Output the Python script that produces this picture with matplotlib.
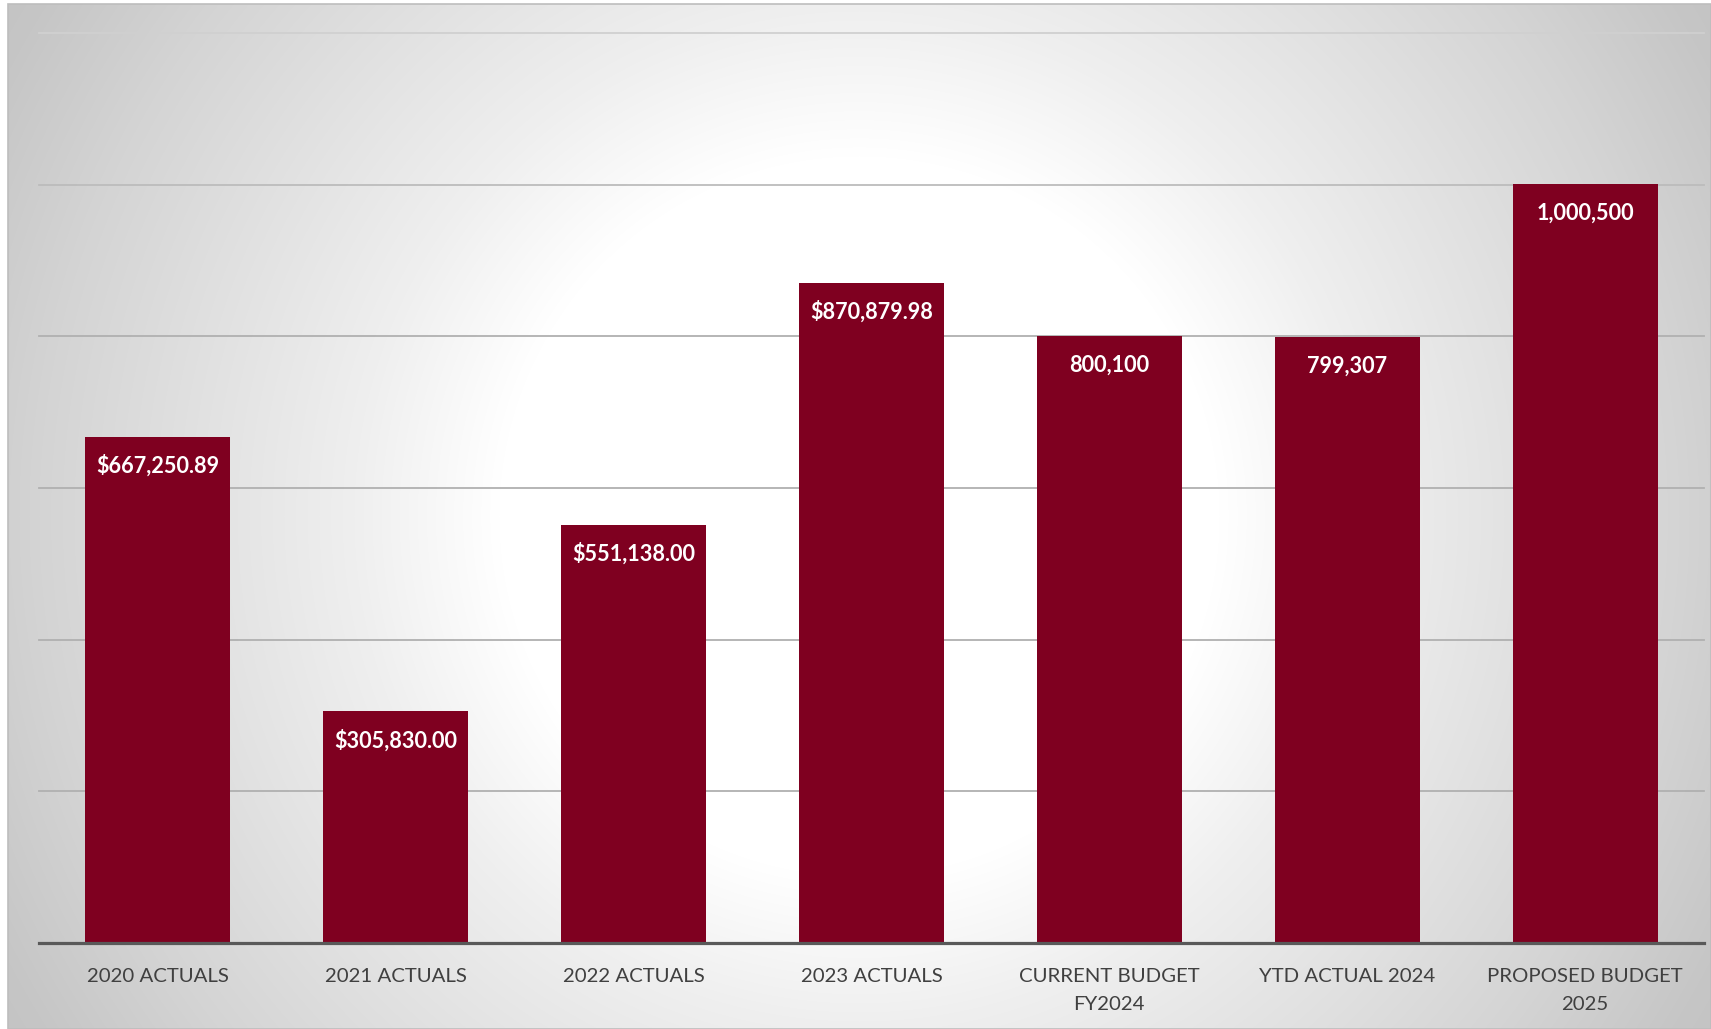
import numpy as np
import matplotlib
matplotlib.use("Agg")
import matplotlib.pyplot as plt
from matplotlib.patches import Rectangle

categories = ["2020 ACTUALS", "2021 ACTUALS", "2022 ACTUALS", "2023 ACTUALS",
              "CURRENT BUDGET\nFY2024", "YTD ACTUAL 2024", "PROPOSED BUDGET\n2025"]
values = [667250.89, 305830.00, 551138.00, 870879.98, 800100, 799307, 1000500]
label_formats = ["${:,.2f}", "${:,.2f}", "${:,.2f}", "${:,.2f}", "{:,.0f}", "{:,.0f}", "{:,.0f}"]
y_ticks = [0, 200000, 400000, 600000, 800000, 1000000, 1200000]

W, H = 1711, 1029
DPI = 100
BAR_COLOR = "#7f0020"

plt.rcParams["font.family"] = ["Lato", "DejaVu Sans"]

fig = plt.figure(figsize=(W / DPI, H / DPI), dpi=DPI)
fig.patch.set_facecolor("white")

# Chart-area background: radial gradient, white centre fading to grey
bg = fig.add_axes([0, 0, 1, 1], zorder=0)
bg.set_xlim(0, W)
bg.set_ylim(H, 0)
bg.axis("off")
x0, y0, x1, y1 = 8, 4, W, H
xs = np.arange(x0, x1) + 0.5
ys = np.arange(y0, y1) + 0.5
XX, YY = np.meshgrid(xs, ys)
cx, cy = (x0 + x1) / 2, (y0 + y1) / 2
d = np.hypot(XX - cx, YY - cy)
shade = np.interp(d, [0, 360, 505, 820, 960, 1100], [255, 255, 239, 212, 198, 190]) / 255.0
img = np.dstack([shade, shade, shade])
bg.imshow(img, extent=(x0, x1, y1, y0), interpolation="bilinear", aspect="auto")
bg.add_patch(Rectangle((x0, y0), x1 - x0, y1 - y0, fill=False, edgecolor="#bdbdbd", linewidth=1.2))

# Plot area
left, right = 39 / W, 1704 / W
bottom, top = (H - 943) / H, (H - 33) / H
ax = fig.add_axes([left, bottom, right - left, top - bottom], zorder=1)
ax.set_facecolor("none")

x = np.arange(len(categories))
bars = ax.bar(x, values, width=0.61, color=BAR_COLOR, zorder=3)

ax.set_xlim(-0.5, len(categories) - 0.5)
ax.set_ylim(0, 1200000)
ax.set_yticks(y_ticks)
ax.yaxis.grid(True, color="#b0b0b0", linewidth=1.3)
gridlines = ax.get_ygridlines()
for gl in gridlines:
    gl.set_clip_on(False)
gridlines[-1].set_color("#d0d0d0")
gridlines[-2].set_color("#bcbcbc")
ax.set_axisbelow(True)
ax.tick_params(axis="y", left=False, labelleft=False)

for side in ("left", "right", "top"):
    ax.spines[side].set_visible(False)
ax.spines["bottom"].set_color("#595959")
ax.spines["bottom"].set_linewidth(2.3)
ax.spines["bottom"].set_zorder(4)

ax.set_xticks(x)
ax.set_xticklabels(categories, fontsize=14.7, color="#404040", linespacing=1.78)
ax.tick_params(axis="x", length=0, pad=18)

for bar, val, fmt in zip(bars, values, label_formats):
    ax.annotate(fmt.format(val),
                xy=(bar.get_x() + bar.get_width() / 2, val),
                xytext=(0, -29), textcoords="offset pixels",
                ha="center", va="center", color="white",
                fontsize=15.6, fontweight="bold", zorder=5)

fig.savefig("out.png", dpi=DPI)
